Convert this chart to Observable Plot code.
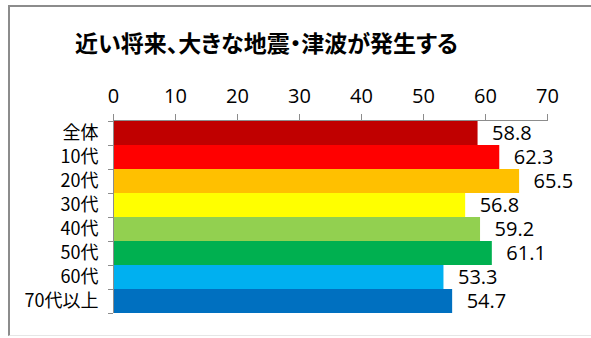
<!DOCTYPE html>
<html>
<head>
<meta charset="utf-8">
<script src="https://cdn.jsdelivr.net/npm/d3@7"></script>
<script src="https://cdn.jsdelivr.net/npm/@observablehq/plot@0.6"></script>
<style>
  html, body { margin: 0; padding: 0; background: #fff; }
  #wrap { position: relative; width: 591px; height: 338px; overflow: hidden; }
  #frame { position: absolute; left: 8px; top: 5px; width: 600px; height: 331px;
           border-top: 2px solid #8c8c8c; border-left: 2px solid #8c8c8c; border-bottom: 1px solid #e6e6e6; box-sizing: border-box; }
  #title { position: relative; height: 65px; box-sizing: border-box; padding-top: 31px; padding-right: 58px;
           text-align: center; font: bold 23px/23px "Noto Sans CJK JP", sans-serif; color: #000;
           font-feature-settings: "palt"; white-space: nowrap; }
  #chart { position: relative; }
</style>
</head>
<body>
<div id="wrap">
  <div id="frame"></div>
  <div id="title">近い将来、大きな地震・津波が発生する</div>
  <div id="chart"></div>
</div>
<script>
const categories = ["全体", "10代", "20代", "30代", "40代", "50代", "60代", "70代以上"];
const values = [58.8, 62.3, 65.5, 56.8, 59.2, 61.1, 53.3, 54.7];
const colors = ["#C00000", "#FF0000", "#FFC000", "#FFFF00", "#92D050", "#00B050", "#00B0F0", "#0070C0"];
const xTicks = [0, 10, 20, 30, 40, 50, 60, 70];

const data = categories.map((c, i) => ({category: c, value: values[i], color: colors[i]}));
const lastCat = categories[categories.length - 1];

const chart = Plot.plot({
  width: 591,
  height: 273,
  marginTop: 55,
  marginBottom: 25,
  marginLeft: 113,
  marginRight: 44,
  x: {domain: [0, 70], ticks: xTicks, label: null},
  y: {domain: categories, padding: 0, label: null},
  style: {background: "transparent", color: "#000"},
  marks: [
    Plot.barX(data, {x: "value", y: "category", fill: "color"}),
    Plot.axisX({anchor: "top", ticks: xTicks, tickSize: 7, tickPadding: 11, stroke: "#8c8c8c", label: null,
                fontSize: 20, fontFamily: "Open Sans, sans-serif", fill: "#000"}),
    Plot.axisY({anchor: "left", tickSize: 0, tickPadding: 15, fontSize: 18, label: null,
                fontFamily: "Noto Sans CJK JP, sans-serif", fill: "#000"}),
    Plot.ruleY(categories, {y: d => d, x1: 0, x2: 0, dy: -12, insetLeft: -5, stroke: "#8c8c8c"}),
    Plot.ruleY([lastCat], {y: d => d, x1: 0, x2: 0, dy: 12, insetLeft: -5, stroke: "#8c8c8c"}),
    Plot.ruleX([0], {stroke: "#8c8c8c"}),
    Plot.frame({anchor: "top", stroke: "#8c8c8c"}),
    Plot.text(data, {x: "value", y: "category", text: d => d.value.toFixed(1), textAnchor: "start", dx: 14,
                     fontSize: 20, fontFamily: "Open Sans, sans-serif", fill: "#000"})
  ]
});
document.getElementById("chart").appendChild(chart);
</script>
</body>
</html>
